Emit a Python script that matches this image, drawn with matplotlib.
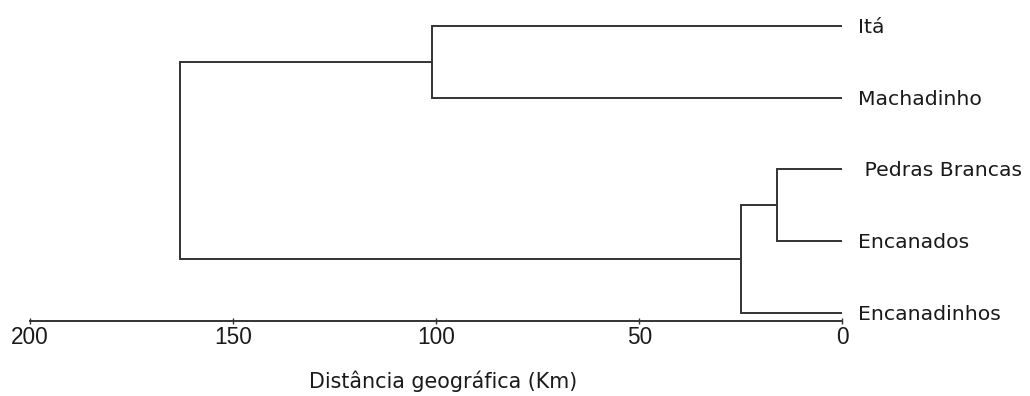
import matplotlib.pyplot as plt

# leaves, top to bottom
leaves = ["Itá", "Machadinho", "Pedras Brancas", "Encanados", "Encanadinhos"]

# merges in scipy linkage style: (cluster a, cluster b, distance in km)
# new clusters get ids 5, 6, 7, 8
merges = [
    (2, 3, 16),
    (5, 4, 25),
    (0, 1, 101),
    (7, 6, 163),
]

xticks = [200, 150, 100, 50, 0]
xlabel = "Distância geográfica (Km)"

line_color = "#333333"
text_color = "#1a1a1a"

fig = plt.figure(figsize=(10.3, 3.96), dpi=100)
W, H = 1030, 396

# axes placed in pixel terms so the axis line sits where the reference has it
left_px, right_px = 30, 842.3
top_px, bottom_px = 4.5, 321
ax = fig.add_axes([left_px / W, 1 - bottom_px / H,
                   (right_px - left_px) / W, (bottom_px - top_px) / H])

# ---------------- DENDROGRAM ---------------- #
pos = {i: (0, i) for i in range(len(leaves))}
for k, (a, b, h) in enumerate(merges):
    xa, ya = pos[a]
    xb, yb = pos[b]
    ax.plot([xa, h, h, xb], [ya, ya, yb, yb],
            color=line_color, linewidth=1.4, solid_joinstyle="miter",
            solid_capstyle="butt")
    pos[len(leaves) + k] = (h, (ya + yb) / 2)

for i, name in enumerate(leaves):
    label = " " + name if name == "Pedras Brancas" else name
    ax.annotate(label, xy=(0, i), xytext=(11.5, -5.0),
                textcoords="offset points", ha="left", va="baseline",
                fontsize=14.7, family="DejaVu Sans", color=text_color,
                annotation_clip=False)

ax.set_xlim(200, 0)
ax.set_ylim(4.116, -0.3)

for side in ["left", "top", "right"]:
    ax.spines[side].set_visible(False)
ax.spines["bottom"].set_color(line_color)
ax.spines["bottom"].set_linewidth(1.4)

ax.set_yticks([])
ax.set_xticks(xticks)
ax.set_xticklabels([str(t) for t in xticks], fontsize=16.3,
                   family="Liberation Sans", color=text_color)
ax.tick_params(axis="x", direction="inout", length=5, width=1.0,
               color=line_color, pad=1.0)

fig.text(443.5 / W, 1 - 388 / H, xlabel, ha="center", va="baseline",
         fontsize=14.9, family="DejaVu Sans", color=text_color)

fig.savefig("out.png", dpi=100, facecolor="white")
